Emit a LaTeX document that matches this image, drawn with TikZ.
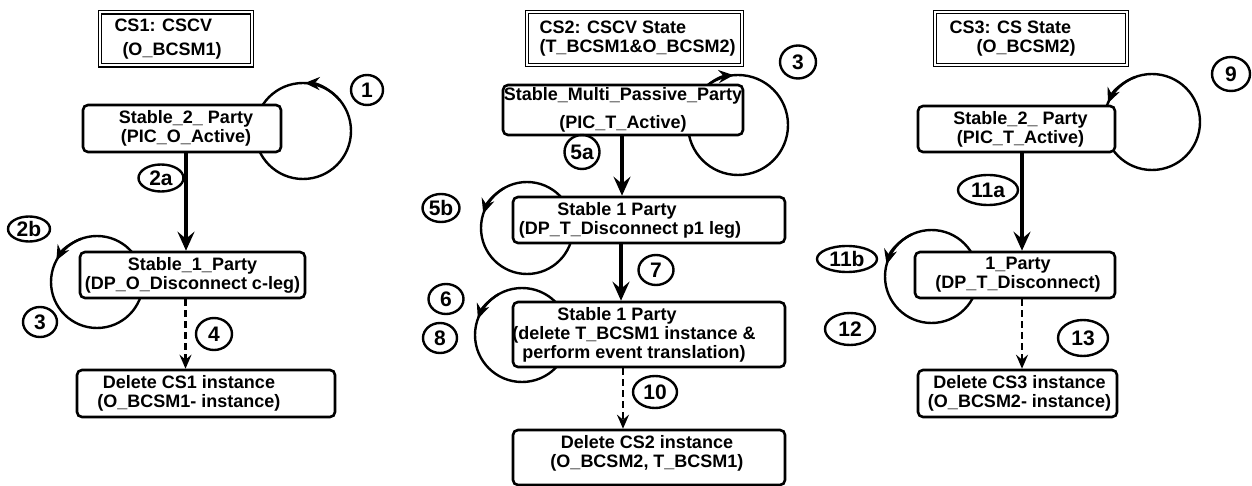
\documentclass[tikz,border=0pt]{standalone}
\usepackage{fontspec}
\setmainfont{Liberation Sans}
\usetikzlibrary{arrows.meta, shapes.geometric}
\tikzset{
  statebox/.style={draw, line width=2.6pt, rounded corners=5pt, fill=white},
  boxtext/.style={align=center, inner sep=0pt, font=\bfseries\fontsize{18}{19}\selectfont},
  titlebox/.style={draw, double, double distance=2pt, line width=1.4pt, fill=white},
  titletext/.style={align=left, inner sep=0pt, anchor=west, font=\bfseries\fontsize{18}{19}\selectfont},
  stepnum/.style={draw, ellipse, line width=2.4pt, inner sep=0pt, font=\bfseries\fontsize{21}{22}\selectfont},
  flow/.style={line width=3.2pt, -{Stealth[length=19pt, width=17pt, inset=7pt]}},
  exitflow/.style={line width=2.2pt, dash pattern=on 7pt off 4pt, -{Stealth[length=14pt, width=12pt, inset=5pt]}},
  loopline/.style={line width=2.4pt},
  looptip/.style={line width=2.4pt, -{Stealth[length=15pt, width=13pt, inset=5pt]}}
}
% name, centre, width, height, text shift, text
\newcommand{\statebox}[6]{%
  \node[statebox, minimum width=#3pt, minimum height=#4pt] (#1) at (#2) {};
  \node[boxtext] (#1t) at ([shift={(#5)}]#1.center) {#6};}
% name, centre, width, text pad, text
\newcommand{\titlebox}[5]{%
  \node[titlebox, minimum width=#3pt, minimum height=53pt] (#1) at (#2) {};
  \node[titletext] (#1t) at ([xshift=#4pt]#1.west) {#5};}
% name, centre, width, height, text
\newcommand{\stepnum}[5]{%
  \node[stepnum, minimum width=#3pt, minimum height=#4pt] (#1) at (#2) {#5};}
% centre, radius, arrow from, arrow to
\newcommand{\selfloop}[4]{%
  \draw[loopline] (#1) circle[radius=#2];
  \draw[looptip] (#1) ++(#3:#2) arc[start angle=#3, end angle=#4, radius=#2];}

\begin{document}
\begin{tikzpicture}[x=1pt, y=-1pt]
  \useasboundingbox (0,0) rectangle (1252,486);

  % self loops, drawn under the boxes
  \coordinate (l1) at (303,131);
  \coordinate (l2) at (97,282);
  \coordinate (l3) at (738,125);
  \coordinate (l5) at (527,228);
  \coordinate (l6) at (522,335);
  \coordinate (l9) at (1152,122);
  \coordinate (l11) at (931.5,276.5);
  \selfloop{l1}{48}{-40}{-88}
  \selfloop{l2}{46}{-110}{-152}
  \selfloop{l3}{50}{-140}{-95}
  \selfloop{l5}{46}{-120}{-162}
  \selfloop{l6}{47}{-120}{-160}
  \selfloop{l9}{48}{-110}{-157}
  \selfloop{l11}{46.5}{-115}{-165}

  % CS1
  \titlebox{cs1}{176,39}{152}{15}{CS1: CSCV\\[5pt]\hspace*{8pt}(O\_BCSM1)}
  \statebox{s1a}{182,128.5}{198}{47}{4,0}{Stable\_2\_ Party\\(PIC\_O\_Active)}
  \statebox{s1b}{192.5,275}{225}{46}{0,0}{Stable\_1\_Party\\(DP\_O\_Disconnect c-leg)}
  \statebox{s1c}{206,393.5}{258}{47}{-17,0}{Delete CS1 instance\\(O\_BCSM1- instance)}
  \draw[flow] ([xshift=4]s1a.south) -- ([xshift=4]s1a.south |- s1b.north);
  \draw[exitflow] ([xshift=-7]s1b.south) -- ([xshift=-7]s1b.south |- s1c.north);

  % CS2
  \titlebox{cs2}{634.5,38.5}{215}{13}{CS2: CSCV State\\(T\_BCSM1\&O\_BCSM2)}
  \statebox{s2a}{623,110}{240}{50}{0,0}{Stable\_Multi\_Passive\_Party\\[9pt](PIC\_T\_Active)}
  \statebox{s2b}{649,220}{272}{46}{-19,0}{Stable 1 Party\hspace*{26pt}\\(DP\_T\_Disconnect p1 leg)}
  \statebox{s2c}{649,334.5}{272}{65}{-15,0}{Stable 1 Party\hspace*{34pt}\\(delete T\_BCSM1 instance \&\\perform event translation)}
  \statebox{s2d}{649,457.5}{272}{55}{-2,-4}{Delete CS2 instance\\(O\_BCSM2, T\_BCSM1)}
  \draw[flow] ([xshift=-1]s2a.south) -- ([xshift=-1]s2a.south |- s2b.north);
  \draw[flow] ([xshift=-28]s2b.south) -- ([xshift=-28]s2b.south |- s2c.north);
  \draw[exitflow] ([xshift=-26]s2c.south) -- ([xshift=-26]s2c.south |- s2d.north);

  % CS3
  \titlebox{cs3}{1031,38.5}{192}{15}{CS3: CS State\\\hspace*{27pt}(O\_BCSM2)}
  \statebox{s3a}{1016.5,129}{197}{46}{4,0}{Stable\_2\_ Party\\(PIC\_T\_Active)}
  \statebox{s3b}{1015,275}{200}{46}{3,0}{1\_Party\\(DP\_T\_Disconnect)}
  \statebox{s3c}{1017.5,393.5}{199}{47}{2,0}{Delete CS3 instance\\(O\_BCSM2- instance)}
  \draw[flow] ([xshift=5.5]s3a.south) -- ([xshift=5.5]s3a.south |- s3b.north);
  \draw[exitflow] ([xshift=7]s3b.south) -- ([xshift=7]s3b.south |- s3c.north);

  % event numbers
  \stepnum{e1}{367,90}{32}{30}{1}
  \stepnum{e2a}{161,178}{45}{27}{2a}
  \stepnum{e2b}{29,229}{42}{25}{2b}
  \stepnum{e3a}{40,322}{34}{30}{3}
  \stepnum{e4}{214,334}{36}{32}{4}
  \stepnum{e3b}{798,62}{36}{33}{3}
  \stepnum{e5a}{582,152}{35}{34}{5a}
  \stepnum{e5b}{441,208}{37}{28}{5b}
  \stepnum{e6}{446,299}{35}{30}{6}
  \stepnum{e8}{440,338}{34}{30}{8}
  \stepnum{e7}{656,270}{35}{30}{7}
  \stepnum{e10}{655,392}{44}{32}{10}
  \stepnum{e9}{1231,74}{38}{34}{9}
  \stepnum{e11a}{988,190}{60}{30}{11a}
  \stepnum{e11b}{847,259}{60}{26}{11b}
  \stepnum{e12}{850,329}{50}{32}{12}
  \stepnum{e13}{1083,338}{50}{36}{13}
\end{tikzpicture}
\end{document}
